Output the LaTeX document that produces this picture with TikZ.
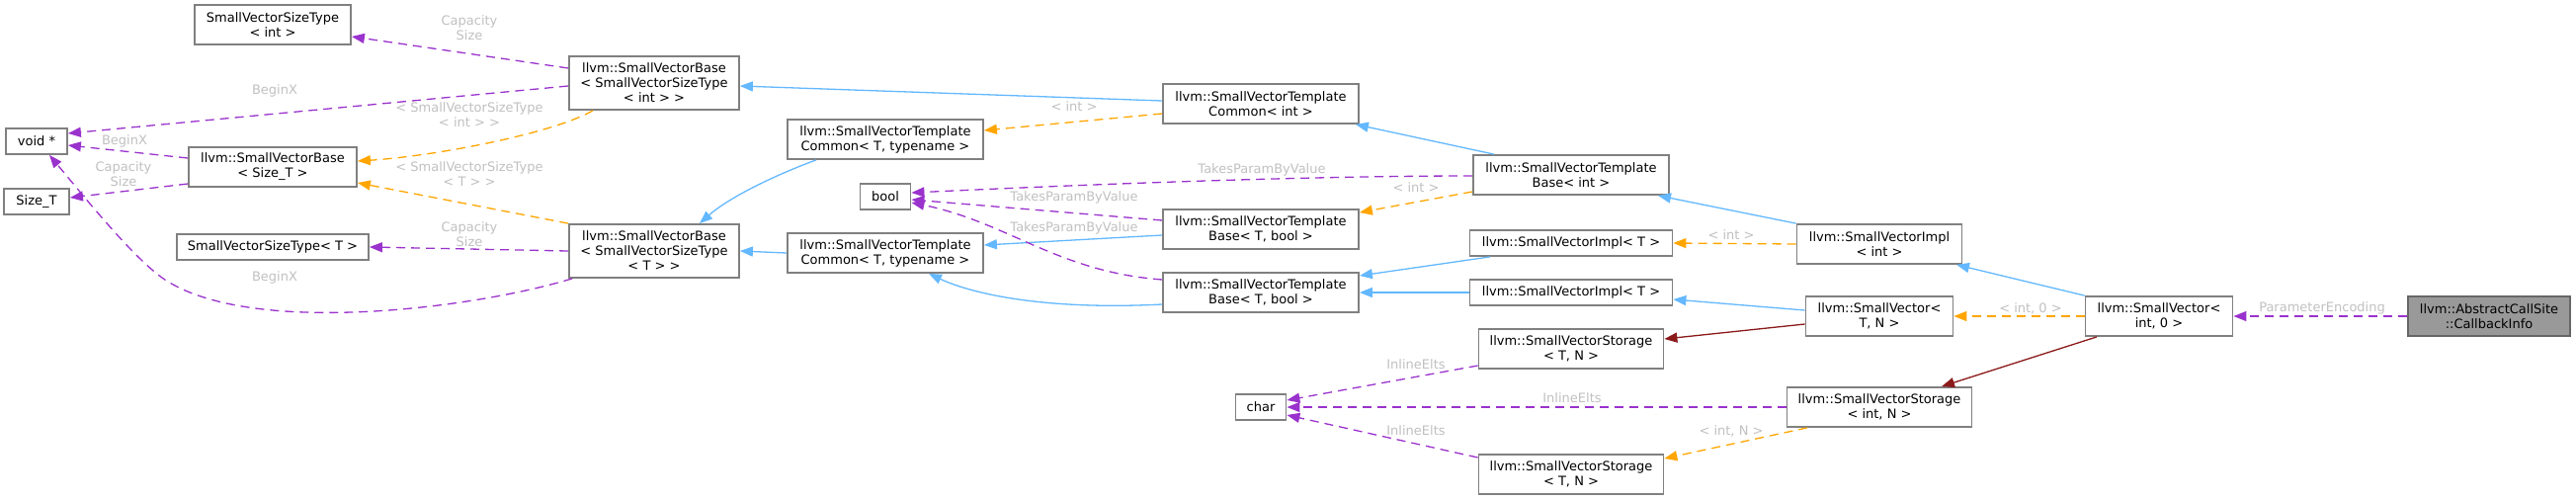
\documentclass[tikz,border=0pt]{standalone}
\usepackage{fontspec}
\newfontfamily\dxfont{DejaVu Sans}
\usetikzlibrary{arrows.meta,calc}
\definecolor{inhblue}{HTML}{63B8FF}
\definecolor{tplorange}{HTML}{FFA500}
\definecolor{usepurple}{HTML}{9A32CD}
\definecolor{privred}{HTML}{8B1A1A}
\definecolor{boxgrey}{HTML}{808080}
\definecolor{lblgrey}{HTML}{C0C0C0}
\definecolor{mainfill}{HTML}{999999}
\definecolor{mainline}{HTML}{666666}
\tikzset{every node/.style={font=\dxfont\fontsize{6.5}{7.5}\selectfont},line cap=round,line join=round,
  cls/.style={draw=boxgrey,line width=0.9pt,fill=white,align=center,inner sep=0pt,minimum height=20pt},
  one/.style={minimum height=13pt},
  three/.style={minimum height=27pt},
  lbl/.style={text=lblgrey,align=center,inner sep=0pt},
  cedge/.style={line width=0.65pt,-{Triangle[length=6.5pt,width=5pt]}},
  inh/.style={cedge,inhblue},
  tpl/.style={cedge,tplorange,dash pattern=on 4.5pt off 3pt},
  uses/.style={cedge,usepurple,dash pattern=on 4.5pt off 3pt},
  priv/.style={cedge,privred}}

\begin{document}
\begin{tikzpicture}[x=0.5pt,y=-0.5pt]
  \path[use as bounding box] (0,0) rectangle (2607,505);
  \node[cls,minimum width=79pt] (svstInt) at (276,25) {SmallVectorSizeType\\< int >};
  \node[cls,three,minimum width=86pt] (svbInt) at (662,84) {llvm::SmallVectorBase\\< SmallVectorSizeType\\< int > >};
  \node[cls,one,minimum width=31pt] (voidp) at (37,143) {void *};
  \node[cls,minimum width=85pt] (svbSize) at (276,169) {llvm::SmallVectorBase\\< Size\_T >};
  \node[cls,one,minimum width=33pt] (sizeT) at (37,204) {Size\_T};
  \node[cls,one,minimum width=97pt] (svstT) at (276,250) {SmallVectorSizeType< T >};
  \node[cls,three,minimum width=86pt] (svbT) at (662,254) {llvm::SmallVectorBase\\< SmallVectorSizeType\\< T > >};
  \node[cls,minimum width=99pt] (svtcInt) at (1276,105) {llvm::SmallVectorTemplate\\Common< int >};
  \node[cls,minimum width=99pt] (svtcA) at (896,141) {llvm::SmallVectorTemplate\\Common< T, typename >};
  \node[cls,one,minimum width=25.5pt] (boolN) at (896,199) {bool};
  \node[cls,minimum width=99pt] (svtbA) at (1276,232) {llvm::SmallVectorTemplate\\Base< T, bool >};
  \node[cls,minimum width=99pt] (svtcB) at (896,256) {llvm::SmallVectorTemplate\\Common< T, typename >};
  \node[cls,minimum width=99pt] (svtbB) at (1276,296) {llvm::SmallVectorTemplate\\Base< T, bool >};
  \node[cls,one,minimum width=25.5pt] (charN) at (1276,412) {char};
  \node[cls,minimum width=99pt] (svtbInt) at (1590,177) {llvm::SmallVectorTemplate\\Base< int >};
  \node[cls,one,minimum width=102.5pt] (svimplA) at (1590,246) {llvm::SmallVectorImpl< T >};
  \node[cls,one,minimum width=102.5pt] (svimplB) at (1590,296) {llvm::SmallVectorImpl< T >};
  \node[cls,minimum width=93.5pt] (svstoA) at (1590,353) {llvm::SmallVectorStorage\\< T, N >};
  \node[cls,minimum width=93.5pt] (svstoB) at (1590,480) {llvm::SmallVectorStorage\\< T, N >};
  \node[cls,minimum width=83.5pt] (svimplInt) at (1902,247) {llvm::SmallVectorImpl\\< int >};
  \node[cls,minimum width=74.5pt] (svTN) at (1902,320) {llvm::SmallVector<\\T, N >};
  \node[cls,minimum width=93.5pt] (svstoInt) at (1902,412) {llvm::SmallVectorStorage\\< int, N >};
  \node[cls,minimum width=74.5pt] (svInt0) at (2185,320) {llvm::SmallVector<\\int, 0 >};
  \node[cls,draw=mainline,fill=mainfill,minimum width=82pt] (cbInfo) at (2519,320) {llvm::AbstractCallSite\\::CallbackInfo};

  \draw[inh] ($(svtcInt.west)+(0,-3)$) -- ($(svbInt.east)+(0,3)$);
  \draw[inh] ($(svtcA.south)+(-70,0)$) .. controls (790,175) and (740,198) .. ($(svbT.north)+(46,0)$);
  \draw[inh] (svtcB.west) -- (svbT.east);
  \draw[inh] ($(svtbA.west)+(0,6)$) -- ($(svtcB.east)+(0,-8)$);
  \draw[inh] ($(svtbB.west)+(0,12)$) .. controls (1060,314) and (985,298) .. ($(svtcB.south)+(44,0)$);
  \draw[inh] ($(svtbInt.north)+(-78,0)$) -- ($(svtcInt.south east)+(-4,0)$);
  \draw[inh] (svimplInt.north west) -- ($(svtbInt.south)+(88,0)$);
  \draw[inh] ($(svimplA.south)+(-82,0)$) -- ($(svtbB.east)+(0,-17)$);
  \draw[inh] (svimplB.west) -- (svtbB.east);
  \draw[inh] ($(svTN.west)+(0,-6)$) -- ($(svimplB.east)+(0,7)$);
  \draw[inh] (svInt0.north west) -- ($(svimplInt.south)+(78,0)$);

  \draw[tpl] ($(svbInt.south)+(-62,0)$) .. controls (560,135) and (440,158) .. ($(svbSize.east)+(0,-6)$)
    node[lbl] (lTplInt) at (475,116) {< SmallVectorSizeType\\< int > >};
  \draw[tpl] (svbT.north west) -- ($(svbSize.east)+(0,16)$)
    node[lbl] (lTplT) at (475,176) {< SmallVectorSizeType\\< T > >};
  \draw[tpl] ($(svtcInt.west)+(0,10)$) -- ($(svtcA.east)+(0,-9)$) node[lbl] (lTcInt) at (1087,108) {< int >};
  \draw[tpl] ($(svtbInt.west)+(0,17)$) -- ($(svtbA.east)+(0,-17)$) node[lbl] (lTbInt) at (1433,190) {< int >};
  \draw[tpl] (svimplInt.west) -- (svimplA.east) node[lbl] (lImplInt) at (1752,238) {< int >};
  \draw[tpl] (svInt0.west) -- (svTN.east) node[lbl] (lSvInt) at (2055,312) {< int, 0 >};
  \draw[tpl] ($(svstoInt.south)+(-73,0)$) -- ($(svstoB.east)+(0,-16)$) node[lbl] (lStoInt) at (1752,436) {< int, N >};

  \draw[uses] ($(svbInt.west)+(0,-15)$) -- ($(svstInt.east)+(0,12)$) node[lbl] (lCapInt) at (475,28) {Capacity\\Size};
  \draw[uses] ($(svbInt.west)+(0,3)$) -- ($(voidp.east)+(0,-8)$) node[lbl] (lBegInt) at (278,92) {BeginX};
  \draw[uses] ($(svbSize.west)+(0,-9)$) -- ($(voidp.east)+(0,4)$) node[lbl] (lBegSize) at (126,143) {BeginX};
  \draw[uses] ($(svbSize.west)+(0,17)$) -- ($(sizeT.east)+(0,-4)$) node[lbl] (lCapSize) at (125,176) {Capacity\\Size};
  \draw[uses] (svbT.west) -- (svstT.east) node[lbl] (lCapT) at (475,237) {Capacity\\Size};
  \draw[uses] ($(svbT.south west)+(4,0)$) .. controls (480,312) and (260,340) .. (170,285)
    .. controls (140,267) and (90,205) .. ($(voidp.south)+(13,0)$) node[lbl] (lBegT) at (278,281) {BeginX};
  \draw[uses] ($(svtbInt.west)+(0,1)$) .. controls (1300,178) and (1050,189) .. ($(boolN.east)+(0,-4)$)
    node[lbl] (lTpvInt) at (1277,172) {TakesParamByValue};
  \draw[uses] ($(svtbA.west)+(0,-9)$) -- ($(boolN.east)+(0,3)$) node[lbl] (lTpvA) at (1087,200) {TakesParamByValue};
  \draw[uses] ($(svtbB.west)+(0,-13)$) .. controls (1070,275) and (1020,225) .. ($(boolN.east)+(0,6)$)
    node[lbl] (lTpvB) at (1087,231) {TakesParamByValue};
  \draw[uses] ($(svstoA.west)+(0,17)$) -- ($(charN.east)+(0,-7)$) node[lbl] (lInlA) at (1433,369) {InlineElts};
  \draw[uses] (svstoInt.west) -- (charN.east) node[lbl] (lInlInt) at (1591,403) {InlineElts};
  \draw[uses] ($(svstoB.west)+(0,-17)$) -- ($(charN.east)+(0,8)$) node[lbl] (lInlB) at (1433,436) {InlineElts};
  \draw[uses] (cbInfo.west) -- (svInt0.east) node[lbl] (lParEnc) at (2350,312) {ParameterEncoding};

  \draw[priv] ($(svTN.west)+(0,8)$) -- ($(svstoA.east)+(0,-10)$);
  \draw[priv] ($(svInt0.south)+(-63,0)$) -- ($(svstoInt.north)+(63,0)$);
\end{tikzpicture}
\end{document}
